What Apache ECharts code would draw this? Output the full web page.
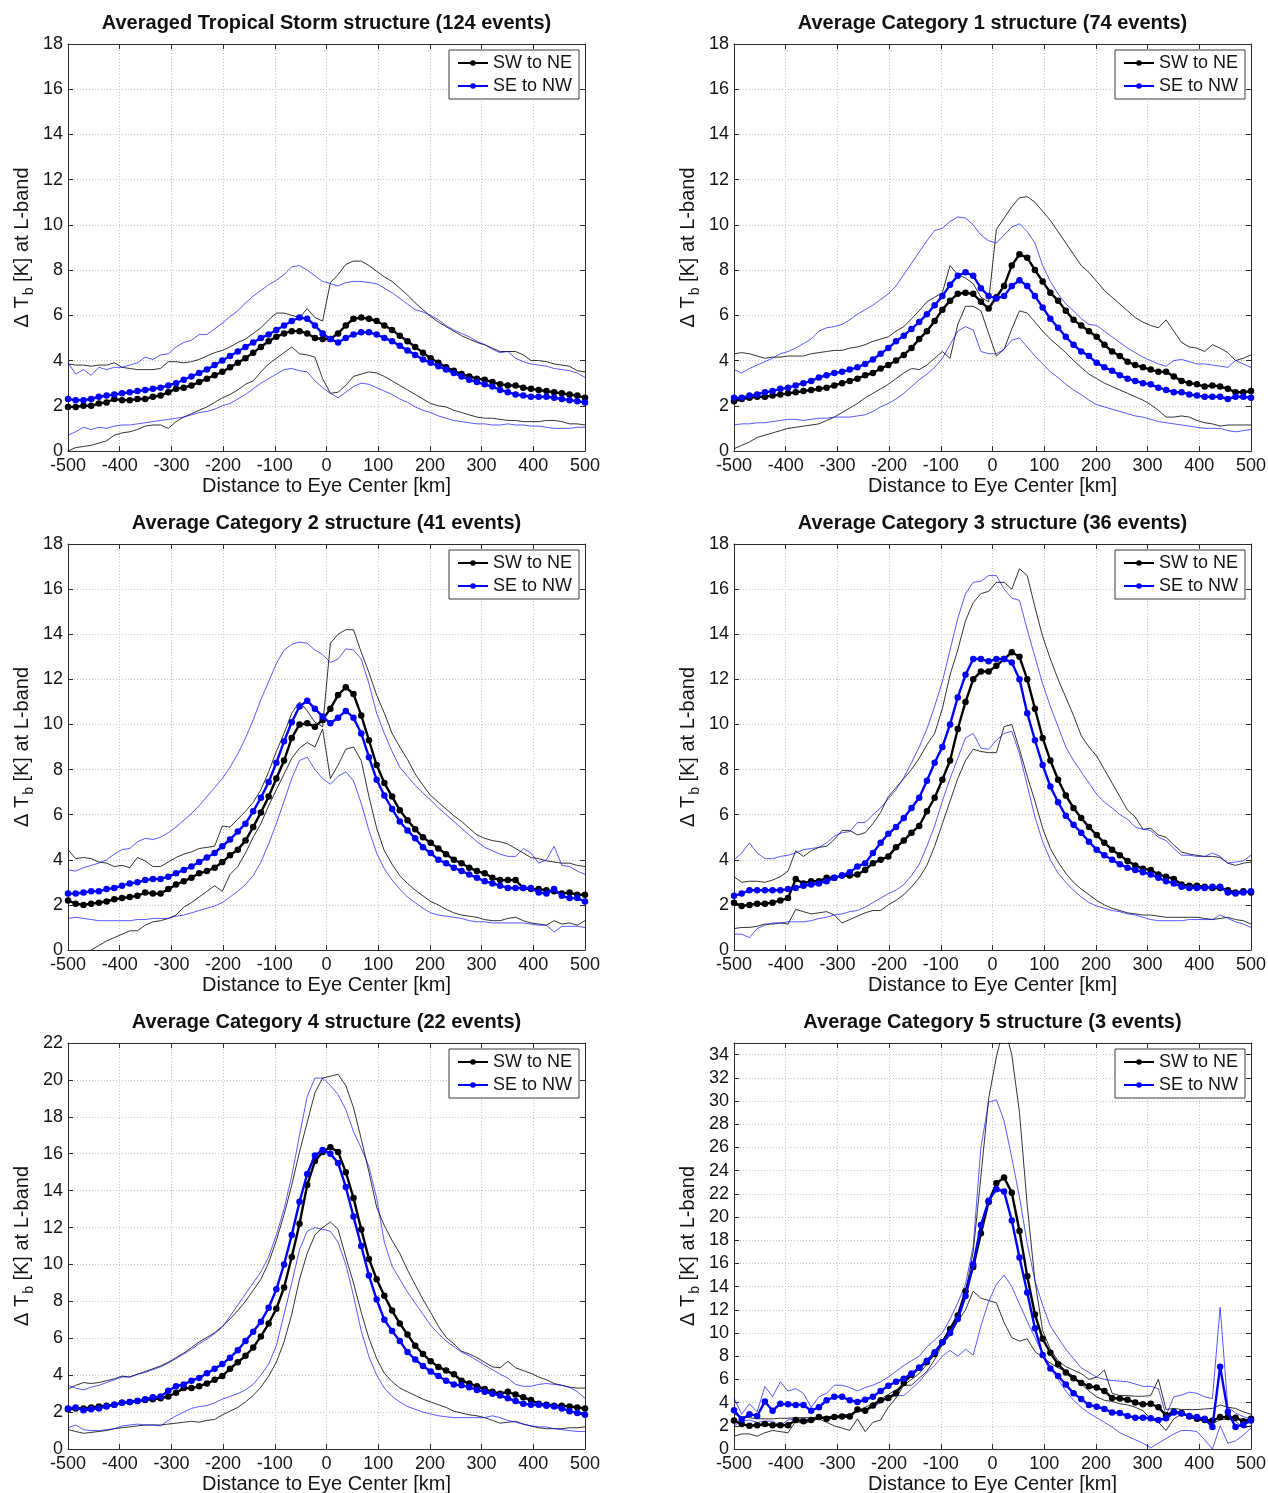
<!DOCTYPE html>
<html>
<head>
<meta charset="utf-8">
<title>Averaged L-band brightness temperature structure by storm category</title>
<script src="https://cdn.jsdelivr.net/npm/echarts@6/dist/echarts.min.js"></script>
<style>
  html, body { margin: 0; padding: 0; background: #ffffff; }
  #chart { width: 1268px; height: 1493px; }
</style>
</head>
<body>
<div id="chart"></div>
<script>
// Along-track sampling positions (km from the eye center)
const distanceKm = [
  -500, -485.1, -470.1, -455.2, -440.3, -425.4, -410.4, -395.5, -380.6, -365.7,
  -350.7, -335.8, -320.9, -306.0, -291.0, -276.1, -261.2, -246.3, -231.3, -216.4,
  -201.5, -186.6, -171.6, -156.7, -141.8, -126.9, -111.9, -97.0, -82.1, -67.2,
  -52.2, -37.3, -22.4, -7.5, 7.5, 22.4, 37.3, 52.2, 67.2, 82.1,
  97.0, 111.9, 126.9, 141.8, 156.7, 171.6, 186.6, 201.5, 216.4, 231.3,
  246.3, 261.2, 276.1, 291.0, 306.0, 320.9, 335.8, 350.7, 365.7, 380.6,
  395.5, 410.4, 425.4, 440.3, 455.2, 470.1, 485.1, 500
];

const xTickKm = [-500, -400, -300, -200, -100, 0, 100, 200, 300, 400, 500];

// ---------- Tropical storm (124 events) ----------
const tsSwNe = [
  1.95, 1.95, 2.0, 2.0, 2.1, 2.15, 2.3, 2.25, 2.25, 2.3,
  2.3, 2.4, 2.45, 2.6, 2.75, 2.8, 2.9, 3.05, 3.2, 3.35,
  3.5, 3.7, 3.9, 4.1, 4.35, 4.6, 4.85, 5.05, 5.2, 5.3,
  5.3, 5.2, 5.0, 4.95, 4.95, 5.2, 5.55, 5.85, 5.9, 5.85,
  5.75, 5.55, 5.35, 5.1, 4.85, 4.6, 4.35, 4.1, 3.9, 3.7,
  3.55, 3.4, 3.3, 3.2, 3.15, 3.05, 2.95, 2.9, 2.9, 2.8,
  2.75, 2.7, 2.65, 2.6, 2.55, 2.5, 2.45, 2.35
];
const tsSeNw = [
  2.3, 2.25, 2.25, 2.3, 2.4, 2.45, 2.5, 2.55, 2.6, 2.65,
  2.7, 2.75, 2.8, 2.9, 3.0, 3.15, 3.3, 3.45, 3.6, 3.8,
  4.0, 4.2, 4.4, 4.6, 4.8, 5.0, 5.15, 5.35, 5.55, 5.75,
  5.9, 5.85, 5.55, 5.2, 4.95, 4.8, 5.0, 5.15, 5.25, 5.25,
  5.15, 5.0, 4.85, 4.65, 4.45, 4.25, 4.05, 3.9, 3.75, 3.6,
  3.45, 3.3, 3.15, 3.05, 2.95, 2.85, 2.7, 2.6, 2.5, 2.45,
  2.4, 2.4, 2.4, 2.35, 2.3, 2.25, 2.2, 2.15
];
const tsSwNeUpper = [
  3.85, 3.8, 3.8, 3.75, 3.8, 3.8, 3.9, 3.7, 3.65, 3.6,
  3.6, 3.6, 3.65, 3.95, 3.95, 3.9, 3.95, 4.05, 4.2, 4.35,
  4.45, 4.6, 4.8, 4.95, 5.2, 5.45, 5.8, 6.1, 6.1, 6.0,
  5.9, 6.3, 5.9, 5.75, 7.45, 7.8, 8.25, 8.4, 8.4, 8.2,
  7.95, 7.7, 7.5, 7.2, 6.9, 6.55, 6.25, 5.95, 5.7, 5.5,
  5.3, 5.1, 4.95, 4.8, 4.7, 4.55, 4.4, 4.4, 4.4, 4.25,
  4.0, 4.0, 3.95, 3.85, 3.8, 3.75, 3.55, 3.5
];
const tsSwNeLower = [
  0.0, 0.15, 0.2, 0.25, 0.35, 0.45, 0.7, 0.8, 0.85, 0.95,
  1.1, 1.15, 1.15, 1.0, 1.3, 1.5, 1.65, 1.8, 1.95, 2.15,
  2.35, 2.5, 2.7, 2.95, 3.1, 3.5, 3.85, 4.1, 4.35, 4.6,
  4.3, 4.25, 4.15, 3.2, 2.55, 2.6, 2.9, 3.3, 3.4, 3.5,
  3.45, 3.3, 3.1, 2.9, 2.7, 2.5, 2.3, 2.1, 2.0, 1.95,
  1.8, 1.7, 1.6, 1.5, 1.45, 1.45, 1.4, 1.35, 1.35, 1.3,
  1.3, 1.3, 1.35, 1.35, 1.3, 1.2, 1.2, 1.15
];
const tsSeNwUpper = [
  3.9, 3.4, 3.6, 3.35, 3.7, 3.6, 3.7, 3.7, 3.8, 3.9,
  4.15, 4.05, 4.25, 4.3, 4.6, 4.8, 4.9, 5.15, 5.15, 5.4,
  5.65, 5.95, 6.2, 6.55, 6.85, 7.1, 7.35, 7.55, 7.8, 8.15,
  8.2, 8.0, 7.75, 7.5, 7.4, 7.3, 7.45, 7.5, 7.5, 7.45,
  7.4, 7.2, 7.0, 6.75, 6.5, 6.25, 6.15, 6.0, 5.8, 5.55,
  5.35, 5.2, 5.05, 4.85, 4.7, 4.5, 4.35, 4.4, 4.1, 3.95,
  3.85, 3.8, 3.75, 3.65, 3.6, 3.55, 3.45, 3.25
];
const tsSeNwLower = [
  0.7, 0.85, 1.05, 0.95, 1.05, 1.0, 1.1, 1.15, 1.15, 1.2,
  1.25, 1.3, 1.35, 1.4, 1.45, 1.5, 1.6, 1.7, 1.75, 1.85,
  2.0, 2.1, 2.3, 2.5, 2.75, 3.0, 3.2, 3.4, 3.6, 3.65,
  3.55, 3.5, 3.1, 2.8, 2.55, 2.35, 2.6, 2.85, 3.0, 2.95,
  2.8, 2.65, 2.5, 2.3, 2.15, 1.95, 1.8, 1.7, 1.55, 1.45,
  1.35, 1.3, 1.25, 1.2, 1.2, 1.15, 1.15, 1.2, 1.15, 1.15,
  1.1, 1.1, 1.05, 1.0, 1.0, 1.0, 1.05, 1.05
];

// ---------- Category 1 (74 events) ----------
const c1SwNe = [
  2.2, 2.3, 2.35, 2.4, 2.4, 2.45, 2.5, 2.55, 2.6, 2.65,
  2.7, 2.75, 2.8, 2.9, 3.0, 3.1, 3.2, 3.35, 3.45, 3.65,
  3.8, 4.0, 4.25, 4.55, 4.95, 5.3, 5.75, 6.25, 6.65, 6.95,
  7.0, 6.95, 6.6, 6.3, 6.8, 7.3, 8.2, 8.7, 8.55, 8.0,
  7.5, 7.0, 6.65, 6.2, 5.8, 5.55, 5.3, 5.05, 4.7, 4.4,
  4.2, 3.95, 3.8, 3.7, 3.6, 3.5, 3.5, 3.3, 3.1, 3.0,
  2.95, 2.85, 2.9, 2.85, 2.75, 2.6, 2.6, 2.65
];
const c1SeNw = [
  2.35, 2.35, 2.45, 2.5, 2.6, 2.65, 2.75, 2.8, 2.9, 3.0,
  3.1, 3.25, 3.35, 3.45, 3.5, 3.6, 3.7, 3.85, 4.05, 4.3,
  4.55, 4.85, 5.1, 5.4, 5.7, 6.05, 6.45, 6.85, 7.35, 7.75,
  7.9, 7.75, 7.2, 6.85, 6.75, 6.85, 7.3, 7.55, 7.3, 6.85,
  6.35, 5.85, 5.45, 5.05, 4.7, 4.4, 4.2, 3.9, 3.7, 3.55,
  3.35, 3.2, 3.1, 3.0, 2.95, 2.8, 2.7, 2.6, 2.6, 2.5,
  2.45, 2.4, 2.4, 2.4, 2.3, 2.4, 2.4, 2.35
];
const c1SwNeUpper = [
  4.3, 4.35, 4.3, 4.2, 4.1, 4.15, 4.15, 4.2, 4.2, 4.2,
  4.3, 4.35, 4.4, 4.45, 4.45, 4.55, 4.6, 4.7, 4.85, 4.95,
  5.05, 5.3, 5.5, 5.85, 6.2, 6.6, 6.8, 7.0, 8.2, 7.8,
  7.65, 7.4, 6.8, 6.6, 9.8, 10.3, 10.8, 11.2, 11.25, 11.0,
  10.6, 10.2, 9.7, 9.2, 8.7, 8.2, 7.9, 7.5, 7.1, 6.8,
  6.5, 6.2, 5.9, 5.7, 5.55, 5.45, 5.8, 5.3, 4.8, 4.6,
  4.55, 4.4, 4.7, 4.55, 4.35, 4.0, 4.1, 4.25
];
const c1SwNeLower = [
  0.1, 0.25, 0.4, 0.6, 0.7, 0.8, 0.9, 1.0, 1.05, 1.1,
  1.15, 1.2, 1.35, 1.5, 1.7, 1.9, 2.1, 2.35, 2.55, 2.75,
  2.95, 3.2, 3.45, 3.65, 3.6, 3.8, 4.1, 4.4, 4.1, 5.6,
  6.4, 6.4, 6.2, 5.2, 4.2, 4.5, 5.4, 6.2, 6.1, 5.7,
  5.3, 4.95, 4.65, 4.35, 4.0, 3.7, 3.4, 3.2, 3.0, 2.85,
  2.7, 2.55, 2.4, 2.25, 2.05, 1.8, 1.5, 1.5, 1.55, 1.5,
  1.35, 1.25, 1.2, 1.1, 1.15, 1.15, 1.15, 1.15
];
const c1SeNwUpper = [
  3.6, 3.45, 3.65, 3.8, 3.95, 4.1, 4.3, 4.4, 4.55, 4.75,
  4.95, 5.3, 5.45, 5.5, 5.6, 5.8, 6.05, 6.25, 6.45, 6.7,
  6.95, 7.3, 7.8, 8.3, 8.8, 9.3, 9.75, 9.85, 10.15, 10.35,
  10.3, 10.0, 9.55, 9.3, 9.2, 9.55, 9.9, 10.05, 9.7, 9.2,
  8.2, 7.5, 6.95, 6.5, 6.2, 5.85, 5.6, 5.55, 5.3, 5.05,
  4.8, 4.55, 4.35, 4.15, 4.0, 3.85, 3.75, 4.0, 4.05, 3.95,
  3.85, 3.85, 3.8, 3.75, 3.7, 4.0, 3.85, 3.7
];
const c1SeNwLower = [
  1.15, 1.2, 1.2, 1.25, 1.25, 1.3, 1.35, 1.4, 1.4, 1.35,
  1.4, 1.45, 1.45, 1.5, 1.5, 1.5, 1.55, 1.6, 1.75, 1.95,
  2.1, 2.3, 2.55, 2.85, 3.15, 3.4, 3.7, 4.1, 4.7, 5.3,
  5.5, 5.35, 4.4, 4.3, 4.3, 4.5, 4.9, 5.0, 4.6, 4.2,
  3.85, 3.5, 3.25, 2.95, 2.7, 2.5, 2.25, 2.05, 1.95, 1.85,
  1.75, 1.65, 1.55, 1.5, 1.4, 1.3, 1.25, 1.2, 1.15, 1.1,
  1.05, 1.0, 1.0, 1.0, 0.9, 0.85, 0.9, 0.95
];

// ---------- Category 2 (41 events) ----------
const c2SwNe = [
  2.2, 2.05, 2.0, 2.05, 2.1, 2.15, 2.25, 2.3, 2.35, 2.4,
  2.55, 2.5, 2.5, 2.7, 2.9, 3.05, 3.2, 3.4, 3.5, 3.65,
  3.9, 4.2, 4.45, 4.85, 5.45, 6.1, 6.8, 7.6, 8.4, 9.4,
  10.0, 10.05, 9.9, 10.2, 10.7, 11.3, 11.65, 11.35, 10.4, 9.3,
  8.2, 7.4, 6.8, 6.2, 5.75, 5.35, 5.0, 4.75, 4.5, 4.25,
  4.0, 3.85, 3.65, 3.5, 3.4, 3.2, 3.1, 3.1, 3.1, 2.75,
  2.7, 2.7, 2.65, 2.6, 2.5, 2.55, 2.45, 2.45
];
const c2SeNw = [
  2.5, 2.5, 2.55, 2.6, 2.6, 2.7, 2.75, 2.85, 2.95, 3.0,
  3.1, 3.15, 3.15, 3.25, 3.4, 3.55, 3.7, 3.9, 4.1, 4.3,
  4.6, 4.9, 5.25, 5.6, 6.15, 6.75, 7.45, 8.3, 9.25, 10.1,
  10.8, 11.05, 10.7, 10.35, 10.05, 10.3, 10.6, 10.3, 9.6, 8.55,
  7.55, 6.85, 6.25, 5.7, 5.3, 4.95, 4.55, 4.3, 4.0, 3.85,
  3.65, 3.5, 3.35, 3.2, 3.05, 2.95, 2.85, 2.75, 2.75, 2.75,
  2.75, 2.55, 2.5, 2.7, 2.4, 2.3, 2.3, 2.15
];
const c2SwNeUpper = [
  4.45, 4.05, 4.1, 4.05, 3.9, 3.85, 3.7, 3.75, 3.65, 4.1,
  3.95, 3.7, 3.7, 3.9, 4.1, 4.25, 4.35, 4.5, 4.55, 4.6,
  5.5, 5.45, 5.8, 6.15, 6.55, 7.1, 7.9, 8.8, 9.6, 10.5,
  11.0, 10.6, 10.1, 9.9, 13.6, 14.0, 14.2, 14.2, 13.2, 12.3,
  11.3, 10.5, 9.6, 9.0, 8.45, 7.8, 7.3, 6.85, 6.55, 6.25,
  5.95, 5.7, 5.4, 5.1, 4.95, 4.85, 4.8, 4.7, 4.5, 4.3,
  4.1, 4.05, 3.95, 3.9, 3.85, 3.85, 3.75, 3.7
];
const c2SwNeLower = [
  -0.6, -0.4, -0.2, 0.0, 0.2, 0.4, 0.55, 0.7, 0.85, 0.85,
  1.1, 1.25, 1.3, 1.4, 1.55, 1.9, 2.1, 2.35, 2.6, 2.85,
  2.6, 3.35, 3.7, 4.3, 5.0, 5.6, 6.4, 7.1, 7.8, 8.5,
  8.95, 9.2, 9.0, 9.8, 7.6, 8.2, 8.9, 9.0, 8.4, 6.8,
  5.4, 4.4, 3.8, 3.3, 2.95, 2.65, 2.4, 2.15, 2.0, 1.8,
  1.65, 1.55, 1.5, 1.45, 1.35, 1.3, 1.3, 1.4, 1.45, 1.3,
  1.2, 1.15, 1.1, 1.3, 1.15, 1.2, 1.1, 1.3
];
const c2SeNwUpper = [
  3.55, 3.5, 3.65, 3.75, 3.85, 4.0, 4.25, 4.45, 4.5, 4.8,
  4.95, 4.9, 5.0, 5.2, 5.45, 5.75, 6.05, 6.4, 6.8, 7.2,
  7.6, 8.1, 8.7, 9.4, 10.2, 11.1, 11.9, 12.7, 13.3, 13.55,
  13.65, 13.6, 13.3, 13.1, 12.75, 12.9, 13.35, 13.3, 12.9, 11.8,
  10.5, 9.6, 8.8, 8.1, 7.7, 7.3, 6.95, 6.65, 6.3, 6.0,
  5.7, 5.4, 5.1, 4.8, 4.55, 4.4, 4.25, 4.15, 4.15, 4.5,
  4.3, 3.85, 4.0, 4.6, 3.75, 3.7, 3.5, 3.35
];
const c2SeNwLower = [
  1.4, 1.45, 1.4, 1.35, 1.3, 1.3, 1.3, 1.3, 1.3, 1.35,
  1.35, 1.4, 1.4, 1.4, 1.5, 1.55, 1.65, 1.75, 1.85, 1.95,
  2.1, 2.35, 2.6, 2.9, 3.3, 3.9, 4.7, 5.6, 6.6, 7.6,
  8.4, 8.55, 8.0, 7.6, 7.35, 7.7, 7.9, 7.5, 6.5, 5.3,
  4.3, 3.6, 3.1, 2.7, 2.35, 2.1, 1.85, 1.65, 1.55, 1.5,
  1.45, 1.4, 1.3, 1.25, 1.25, 1.2, 1.2, 1.2, 1.2, 1.2,
  1.15, 1.1, 1.1, 0.8, 1.05, 1.05, 1.05, 1.0
];

// ---------- Category 3 (36 events) ----------
const c3SwNe = [
  2.1, 1.95, 2.0, 2.05, 2.05, 2.1, 2.2, 2.3, 3.15, 2.95,
  3.05, 3.05, 3.2, 3.2, 3.3, 3.3, 3.35, 3.55, 3.85, 4.0,
  4.15, 4.55, 4.85, 5.2, 5.5, 6.15, 6.75, 7.55, 8.4, 9.8,
  11.0, 12.0, 12.35, 12.35, 12.6, 12.9, 13.2, 13.0, 12.0, 10.7,
  9.4, 8.4, 7.55, 6.85, 6.3, 5.85, 5.45, 5.1, 4.75, 4.45,
  4.2, 3.95, 3.75, 3.6, 3.55, 3.35, 3.25, 3.15, 2.9, 2.85,
  2.85, 2.8, 2.75, 2.75, 2.65, 2.55, 2.6, 2.55
];
const c3SeNw = [
  2.4, 2.5, 2.65, 2.65, 2.65, 2.65, 2.65, 2.7, 2.75, 2.85,
  2.9, 2.95, 3.05, 3.2, 3.3, 3.45, 3.7, 3.85, 4.3, 4.75,
  5.15, 5.45, 5.85, 6.3, 6.75, 7.5, 8.3, 9.0, 10.0, 11.2,
  12.2, 12.9, 12.9, 12.8, 12.9, 12.9, 12.75, 12.0, 10.5, 9.3,
  8.2, 7.25, 6.55, 5.95, 5.55, 5.2, 4.8, 4.45, 4.2, 4.0,
  3.8, 3.65, 3.55, 3.45, 3.35, 3.2, 3.05, 2.95, 2.8, 2.75,
  2.75, 2.75, 2.8, 2.8, 2.55, 2.5, 2.55, 2.6
];
const c3SwNeUpper = [
  3.25, 3.0, 3.05, 3.05, 3.0, 3.1, 3.25, 3.5, 4.4, 4.15,
  4.4, 4.55, 4.6, 4.9, 5.3, 5.3, 5.1, 5.2, 5.6, 6.1,
  6.8, 7.2, 7.6, 8.0, 8.5, 9.1, 9.6, 10.7, 12.2, 13.3,
  14.6, 15.4, 15.8, 15.9, 16.3, 16.3, 16.0, 16.9, 16.6, 15.2,
  13.9, 12.9, 12.0, 11.2, 10.4, 9.5, 9.0, 8.6, 8.0, 7.4,
  6.8, 6.2, 5.9, 5.35, 5.4, 5.1, 5.0, 4.65, 4.35, 4.25,
  4.2, 4.15, 4.15, 4.1, 3.85, 3.75, 3.85, 3.9
];
const c3SwNeLower = [
  0.95, 1.0, 1.0, 1.05, 1.15, 1.15, 1.2, 1.15, 1.8, 1.7,
  1.6, 1.65, 1.7, 1.55, 1.2, 1.35, 1.5, 1.65, 1.75, 1.75,
  2.0, 2.2, 2.45, 2.8, 3.2, 3.75, 4.6, 5.6, 6.6, 7.6,
  8.4, 8.9, 8.8, 8.75, 8.75, 9.9, 10.0, 8.9, 7.7, 6.6,
  5.4, 4.5, 3.9, 3.4, 3.0, 2.7, 2.45, 2.2, 2.0, 1.85,
  1.75, 1.65, 1.6, 1.55, 1.55, 1.5, 1.45, 1.45, 1.45, 1.45,
  1.45, 1.4, 1.35, 1.4, 1.45, 1.35, 1.3, 1.15
];
const c3SeNwUpper = [
  4.0, 4.3, 4.75, 4.3, 4.05, 4.05, 4.15, 4.2, 4.3, 4.45,
  4.5, 4.55, 4.75, 5.05, 5.2, 5.25, 5.65, 5.65, 6.0, 6.3,
  6.7, 7.1, 7.65, 8.3, 9.0, 9.8, 10.8, 11.9, 13.3, 14.7,
  15.8, 16.3, 16.35, 16.6, 16.6, 16.0, 15.6, 15.5, 14.2, 13.0,
  11.8, 10.8, 9.9, 9.0, 8.4, 7.9, 7.4, 6.9, 6.55, 6.3,
  6.0, 5.8, 5.45, 5.35, 5.3, 5.0, 4.85, 4.5, 4.2, 4.2,
  4.15, 4.15, 4.3, 4.15, 3.85, 3.9, 3.95, 4.2
];
const c3SeNwLower = [
  0.7, 0.7, 0.55, 0.95, 1.1, 1.2, 1.2, 1.25, 1.25, 1.25,
  1.3, 1.4, 1.45, 1.55, 1.6, 1.7, 1.75, 1.9, 2.1, 2.3,
  2.5, 2.65, 2.9, 3.3, 3.8, 4.6, 5.5, 6.6, 7.6, 8.5,
  9.4, 9.6, 8.95, 8.9, 9.3, 9.6, 9.7, 8.7, 7.3, 5.9,
  4.8, 4.0, 3.4, 3.0, 2.65, 2.35, 2.1, 1.95, 1.85, 1.75,
  1.7, 1.6, 1.55, 1.45, 1.35, 1.3, 1.3, 1.3, 1.3, 1.35,
  1.35, 1.35, 1.35, 1.55, 1.4, 1.25, 1.15, 1.0
];

// ---------- Category 4 (22 events) ----------
const c4SwNe = [
  2.15, 2.2, 2.2, 2.25, 2.3, 2.35, 2.4, 2.5, 2.55, 2.6,
  2.65, 2.7, 2.75, 2.85, 3.05, 3.3, 3.3, 3.4, 3.55, 3.75,
  3.95, 4.35, 4.7, 5.05, 5.5, 6.1, 6.8, 7.6, 8.75, 10.4,
  12.2, 14.3, 15.6, 16.1, 16.35, 16.1, 15.0, 13.6, 11.9, 10.3,
  9.2, 8.3, 7.5, 6.8, 6.2, 5.6, 5.15, 4.75, 4.45, 4.25,
  4.05, 3.7, 3.55, 3.4, 3.25, 3.1, 3.0, 3.1, 2.95, 2.8,
  2.65, 2.45, 2.4, 2.35, 2.35, 2.3, 2.25, 2.2
];
const c4SeNw = [
  2.2, 2.25, 2.1, 2.15, 2.2, 2.3, 2.4, 2.5, 2.55, 2.6,
  2.7, 2.8, 2.85, 3.15, 3.4, 3.5, 3.7, 3.85, 4.1, 4.35,
  4.6, 4.95, 5.35, 5.85, 6.35, 6.9, 7.65, 8.65, 10.0, 11.6,
  13.4, 14.9, 15.9, 16.2, 16.0, 15.5, 14.2, 12.6, 11.0, 9.4,
  8.1, 7.0, 6.4, 5.85, 5.25, 4.85, 4.5, 4.2, 3.95, 3.7,
  3.5, 3.45, 3.35, 3.2, 3.1, 3.0, 2.9, 2.75, 2.6, 2.45,
  2.4, 2.4, 2.35, 2.3, 2.2, 2.05, 1.95, 1.85
];
const c4SwNeUpper = [
  3.25, 3.45, 3.6, 3.55, 3.6, 3.7, 3.8, 3.95, 3.9, 4.05,
  4.2, 4.35, 4.5, 4.7, 4.95, 5.2, 5.5, 5.8, 6.05, 6.3,
  6.65, 7.05, 7.5, 8.0, 8.6, 9.2, 10.1, 11.3, 12.7, 14.3,
  16.1, 17.7, 19.3, 20.1, 20.2, 20.3, 19.7, 18.5, 16.8, 15.0,
  13.1, 12.1, 11.3, 10.6, 9.7, 8.9, 8.1, 7.4, 6.65, 6.05,
  5.7, 5.3, 5.15, 4.95, 4.7, 4.45, 4.4, 4.75, 4.4, 4.25,
  4.1, 3.9, 3.75, 3.55, 3.45, 3.35, 3.3, 3.3
];
const c4SwNeLower = [
  1.05, 0.95, 0.85, 0.9, 0.95, 1.0, 1.1, 1.15, 1.2, 1.25,
  1.3, 1.3, 1.3, 1.35, 1.4, 1.45, 1.5, 1.45, 1.55, 1.6,
  1.85, 2.05, 2.25, 2.55, 2.9, 3.35, 3.95, 4.7, 5.8, 7.3,
  9.2, 10.6, 11.6, 12.0, 12.3, 11.9, 10.4, 9.0, 7.4, 6.0,
  4.9, 4.1, 3.65, 3.3, 3.1, 2.9, 2.7, 2.55, 2.4, 2.25,
  2.05, 1.95, 1.85, 1.8, 1.7, 1.55, 1.4, 1.45, 1.5, 1.35,
  1.25, 1.15, 1.1, 1.1, 1.1, 1.15, 1.15, 1.2
];
const c4SeNwUpper = [
  3.45, 3.3, 3.2, 3.35, 3.45, 3.6, 3.75, 3.9, 3.9, 4.05,
  4.15, 4.3, 4.45, 4.65, 4.9, 5.15, 5.4, 5.7, 5.95, 6.25,
  6.6, 7.2, 7.8, 8.4, 9.0, 9.6, 10.4, 11.6, 13.0, 14.8,
  17.0, 19.1, 20.1, 20.1, 19.7, 19.2, 18.4, 17.2, 16.3, 15.3,
  13.6, 11.2, 9.9, 9.2, 8.5, 7.9, 7.3, 6.7, 6.25, 5.85,
  5.55, 5.25, 5.05, 4.8, 4.55, 4.3, 4.05, 3.85, 3.5, 3.4,
  3.4, 3.5, 3.55, 3.5, 3.45, 3.35, 3.1, 2.75
];
const c4SeNwLower = [
  1.15, 1.3, 1.05, 1.0, 1.0, 1.05, 1.1, 1.25, 1.3, 1.35,
  1.3, 1.3, 1.25, 1.55, 1.8, 2.0, 2.2, 2.3, 2.35, 2.5,
  2.7, 2.85, 3.0, 3.2, 3.5, 4.0, 4.6, 5.6, 7.3, 9.0,
  10.8, 11.8, 12.0, 11.9, 11.8, 11.2, 10.0, 8.3, 6.4, 5.0,
  4.0, 3.3, 2.85, 2.55, 2.3, 2.15, 2.0, 1.9, 1.8, 1.75,
  1.7, 1.7, 1.7, 1.7, 1.7, 1.8, 1.7, 1.55, 1.45, 1.35,
  1.25, 1.2, 1.2, 1.1, 1.05, 1.0, 0.95, 0.95
];

// ---------- Category 5 (3 events) ----------
const c5SwNe = [
  2.45, 2.15, 2.0, 2.05, 2.15, 2.05, 2.05, 2.05, 2.5, 2.4,
  2.5, 2.75, 2.6, 2.75, 2.8, 2.8, 3.4, 3.3, 3.75, 4.2,
  4.4, 4.8, 5.7, 6.4, 7.0, 7.5, 8.2, 9.2, 10.35, 11.5,
  13.6, 15.7, 18.6, 21.3, 22.9, 23.4, 22.1, 18.8, 14.9, 11.6,
  9.5, 8.3, 7.3, 6.6, 6.1, 5.7, 5.4, 5.3, 5.0, 4.4,
  4.35, 4.25, 4.0, 3.85, 3.9, 3.6, 2.9, 3.2, 3.1, 2.8,
  2.6, 2.5, 2.45, 2.75, 2.75, 2.7, 2.4, 2.6
];
const c5SeNw = [
  3.35, 2.55, 3.0, 2.85, 4.1, 3.3, 3.9, 3.85, 3.8, 3.8,
  3.3, 3.6, 4.2, 4.5, 4.5, 4.2, 4.05, 4.25, 4.5, 5.0,
  5.45, 5.8, 6.05, 6.5, 7.0, 7.6, 8.35, 9.2, 10.0, 11.2,
  13.2, 15.9, 19.3, 21.4, 22.4, 22.2, 19.7, 16.5, 13.5, 10.4,
  8.1, 6.95, 6.3, 5.55, 4.8, 4.3, 3.8, 3.65, 3.45, 3.15,
  3.1, 2.85, 2.7, 2.7, 2.65, 2.5, 2.65, 3.15, 3.05, 2.85,
  2.75, 2.6, 1.9, 7.1, 3.2, 1.9, 2.1, 2.45
];
const c5SwNeUpper = [
  3.0, 2.8, 2.7, 2.6, 2.6, 2.6, 2.65, 2.65, 2.7, 2.7,
  2.7, 2.75, 2.8, 2.8, 2.9, 3.0, 3.3, 3.6, 3.9, 4.3,
  4.7, 5.1, 5.5, 6.0, 6.5, 7.3, 8.3, 9.3, 10.4, 11.5,
  13.5, 17.0, 23.5, 30.2, 33.8, 36.5, 34.0, 29.0, 21.0, 14.5,
  10.2, 8.6, 7.6, 7.1, 6.8, 6.5, 6.0, 6.2, 6.8, 4.8,
  4.6, 4.6, 4.55, 4.55, 4.6, 6.0, 3.4, 3.5, 3.4, 3.4,
  3.4, 3.45, 3.5, 3.8, 3.6, 3.5, 3.2, 3.0
];
const c5SwNeLower = [
  1.1, 1.3, 1.3, 1.1, 1.4, 1.6, 1.5, 1.4, 2.4, 2.2,
  2.4, 2.6, 2.3, 2.0, 1.8, 1.6, 2.6, 1.5, 2.3, 2.5,
  3.6, 4.4, 5.5, 5.5, 6.1, 6.7, 7.7, 9.0, 9.8, 11.0,
  12.0, 13.6, 13.0, 12.8, 12.6, 10.9, 9.6, 9.3, 9.5, 8.4,
  7.9, 7.4, 7.0, 6.7, 6.3, 5.6, 5.0, 4.5, 4.2, 4.1,
  3.9, 3.8, 3.6, 3.3, 2.6, 2.3, 1.6, 2.6, 3.0, 2.9,
  2.6, 2.4, 2.2, 2.5, 2.6, 2.4, 1.8, 2.0
];
const c5SeNwUpper = [
  4.4, 3.0, 3.9, 3.2, 5.4, 4.5, 5.8, 5.0, 5.2, 4.8,
  3.6, 4.5, 4.8, 5.5, 5.5, 5.3, 5.0, 5.3, 5.5, 5.8,
  6.2, 6.7, 7.2, 7.6, 8.0, 8.8, 9.4, 10.0, 11.2, 12.6,
  14.2, 17.5, 26.0, 29.9, 30.1, 28.3, 25.1, 21.7, 17.7, 14.5,
  12.4, 10.6, 9.6, 8.6, 7.8, 7.0, 6.6, 6.2, 6.0, 5.9,
  5.85, 5.8, 5.6, 5.4, 5.4, 5.2, 2.9, 4.5, 4.65, 4.9,
  4.8, 4.5, 4.35, 12.2, 3.6, 3.1, 2.8, 2.6
];
const c5SeNwLower = [
  2.0, 2.4, 2.5, 2.3, 2.4, 2.4, 2.0, 2.5, 2.6, 2.6,
  2.5, 2.7, 2.6, 2.8, 2.9, 3.0, 3.2, 3.3, 3.6, 4.0,
  4.4, 4.6, 4.6, 5.2, 5.8, 6.6, 7.2, 8.0, 8.5, 8.0,
  8.6, 8.1, 10.6, 12.7, 14.2, 15.0, 14.0, 12.5, 11.0, 9.6,
  8.2, 7.0, 6.0, 5.0, 4.2, 3.6, 3.1, 2.7, 2.3, 1.9,
  1.4, 1.1, 0.8, 0.5, 0.1, 0.5, 0.9, 1.3, 1.6, 1.6,
  1.5, 0.8, 0.0, 2.0, 0.5, 0.7, 1.2, 1.8
];

const panelTitles = [
  'Averaged Tropical Storm structure (124 events)',
  'Average Category 1 structure (74 events)',
  'Average Category 2 structure (41 events)',
  'Average Category 3 structure (36 events)',
  'Average Category 4 structure (22 events)',
  'Average Category 5 structure (3 events)'
];
const panelYMax = [18, 18, 18, 18, 22, 35];
const transectNames = ['SW to NE', 'SE to NW'];

const panels = [
  { swNe: tsSwNe, seNw: tsSeNw, swNeHi: tsSwNeUpper, swNeLo: tsSwNeLower, seNwHi: tsSeNwUpper, seNwLo: tsSeNwLower },
  { swNe: c1SwNe, seNw: c1SeNw, swNeHi: c1SwNeUpper, swNeLo: c1SwNeLower, seNwHi: c1SeNwUpper, seNwLo: c1SeNwLower },
  { swNe: c2SwNe, seNw: c2SeNw, swNeHi: c2SwNeUpper, swNeLo: c2SwNeLower, seNwHi: c2SeNwUpper, seNwLo: c2SeNwLower },
  { swNe: c3SwNe, seNw: c3SeNw, swNeHi: c3SwNeUpper, swNeLo: c3SwNeLower, seNwHi: c3SeNwUpper, seNwLo: c3SeNwLower },
  { swNe: c4SwNe, seNw: c4SeNw, swNeHi: c4SwNeUpper, swNeLo: c4SwNeLower, seNwHi: c4SeNwUpper, seNwLo: c4SeNwLower },
  { swNe: c5SwNe, seNw: c5SeNw, swNeHi: c5SwNeUpper, swNeLo: c5SwNeLower, seNwHi: c5SeNwUpper, seNwLo: c5SeNwLower }
];

// ---------- layout & styling ----------
const FONT = "'Liberation Sans', Arial, Helvetica, sans-serif";
const INK = '#141414';
const FRAME = '#2a2a2a';
const BLACK = '#000000';
const BLUE = '#0000ff';
const PLOT_W = 517;
const colLeft = [68, 734];
const rowBox = [
  { top: 44, height: 407 },
  { top: 544, height: 406 },
  { top: 1043, height: 406 }
];

function toPoints(values, label) {
  if (values.length !== distanceKm.length) {
    throw new Error(label + ': ' + values.length + ' values for ' + distanceKm.length + ' positions');
  }
  return distanceKm.map((d, i) => [d, values[i]]);
}

const axisLine = { show: true, onZero: false, lineStyle: { color: FRAME, width: 1 } };
const axisTick = { show: true, inside: true, length: 5, lineStyle: { color: FRAME, width: 1 } };
const gridLine = { show: true, lineStyle: { color: '#c4c4c4', width: 1, type: [1, 2] } };

const option = {
  animation: false,
  backgroundColor: '#ffffff',
  grid: [], xAxis: [], yAxis: [], legend: [], series: [], graphic: []
};

panels.forEach((p, k) => {
  const left = colLeft[k % 2];
  const box = rowBox[Math.floor(k / 2)];
  const yMax = panelYMax[k];

  option.grid.push({
    left: left, top: box.top, width: PLOT_W, height: box.height,
    containLabel: false, outerBoundsMode: 'none'
  });

  const xi = option.xAxis.length;
  option.xAxis.push({
    gridIndex: k, type: 'value', position: 'bottom',
    min: xTickKm[0], max: xTickKm[xTickKm.length - 1], interval: 100,
    name: 'Distance to Eye Center [km]', nameLocation: 'middle', nameGap: 25,
    nameTextStyle: { fontFamily: FONT, fontSize: 20, color: INK },
    axisLine: axisLine, axisTick: axisTick, splitLine: gridLine,
    axisLabel: { fontFamily: FONT, fontSize: 18, color: INK, margin: 6 }
  });
  option.xAxis.push({
    gridIndex: k, type: 'value', position: 'top',
    min: xTickKm[0], max: xTickKm[xTickKm.length - 1], interval: 100,
    axisLine: axisLine, axisTick: axisTick,
    axisLabel: { show: false }, splitLine: { show: false }
  });

  const yi = option.yAxis.length;
  option.yAxis.push({
    gridIndex: k, type: 'value', position: 'left',
    min: 0, max: yMax, interval: 2,
    name: '{m|\u0394 T}{s|b}{m| [K] at L-band}', nameLocation: 'middle', nameGap: 36,
    nameTextStyle: {
      fontFamily: FONT, fontSize: 20, color: INK,
      rich: {
        m: { fontFamily: FONT, fontSize: 20, color: INK, lineHeight: 20, verticalAlign: 'top' },
        s: { fontFamily: FONT, fontSize: 14, color: INK, lineHeight: 14, verticalAlign: 'top', padding: [10, 0, 0, 1] }
      }
    },
    axisLine: axisLine, axisTick: axisTick, splitLine: gridLine,
    axisLabel: {
      fontFamily: FONT, fontSize: 18, color: INK, margin: 5,
      formatter: (v) => (v % 2 === 0 ? String(v) : '')
    }
  });
  option.yAxis.push({
    gridIndex: k, type: 'value', position: 'right',
    min: 0, max: yMax, interval: 2,
    axisLine: axisLine, axisTick: axisTick,
    axisLabel: { show: false }, splitLine: { show: false }
  });

  // envelope lines
  const thin = (name, values, color, opacity) => ({
    name: name, type: 'line', xAxisIndex: xi, yAxisIndex: yi,
    data: toPoints(values, name + ' #' + k),
    symbol: 'none', showSymbol: false, silent: true, clip: true, z: 2,
    lineStyle: { color: color, width: 1, opacity: opacity },
    itemStyle: { color: color }
  });
  // mean transects with sample markers
  const thick = (name, values, color, z) => ({
    name: name, type: 'line', xAxisIndex: xi, yAxisIndex: yi,
    data: toPoints(values, name + ' #' + k),
    symbol: 'circle', symbolSize: 6.5, showSymbol: true, showAllSymbol: true,
    silent: true, clip: true, z: z,
    lineStyle: { color: color, width: 2.4 },
    itemStyle: { color: color, borderWidth: 0 }
  });

  option.series.push(
    thin('SW to NE spread', p.swNeHi, BLACK, 0.8),
    thin('SW to NE spread', p.swNeLo, BLACK, 0.8),
    thin('SE to NW spread', p.seNwHi, BLUE, 0.65),
    thin('SE to NW spread', p.seNwLo, BLUE, 0.65),
    thick(transectNames[0], p.swNe, BLACK, 3),
    thick(transectNames[1], p.seNw, BLUE, 4)
  );

  option.legend.push({
    left: left + 381, top: box.top + 6,
    orient: 'vertical', data: transectNames, selectedMode: false,
    itemWidth: 30, itemHeight: 7, itemGap: 5,
    padding: [4, 7, 4, 8],
    backgroundColor: '#ffffff', borderColor: '#3a3a3a', borderWidth: 1, borderRadius: 0,
    textStyle: { fontFamily: FONT, fontSize: 18, color: INK }
  });

  option.graphic.push({
    type: 'text', silent: true,
    x: left + PLOT_W / 2, y: box.top - 21,
    style: {
      text: panelTitles[k], fill: '#111111',
      font: 'bold 20px ' + FONT,
      align: 'center', verticalAlign: 'middle',
      textAlign: 'center', textVerticalAlign: 'middle'
    }
  });
});

const chart = echarts.init(document.getElementById('chart'), null, { renderer: 'canvas' });
chart.setOption(option);
</script>
</body>
</html>
